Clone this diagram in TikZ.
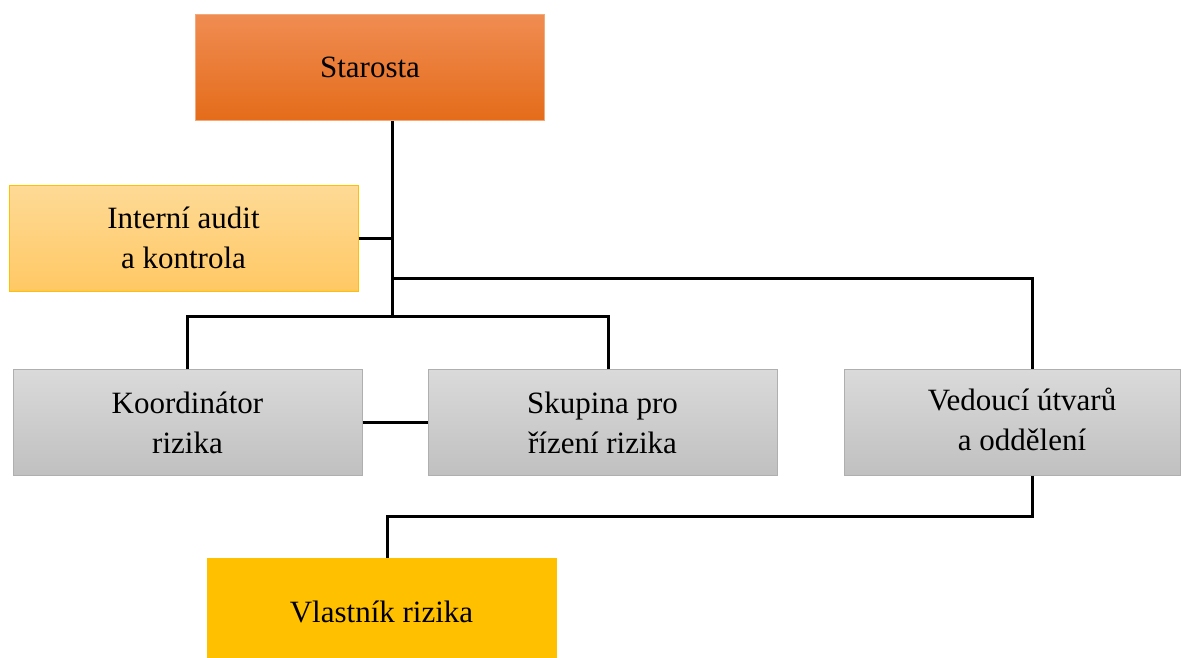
\documentclass[tikz,border=0pt]{standalone}
\usepackage{fontspec}
\setmainfont{Liberation Serif}
\definecolor{orTop}{RGB}{240,140,82}
\definecolor{orBot}{RGB}{228,108,26}
\definecolor{orLine}{RGB}{244,170,120}
\definecolor{auTop}{RGB}{254,218,150}
\definecolor{auBot}{RGB}{255,200,100}
\definecolor{auLine}{RGB}{255,192,0}
\definecolor{grTop}{RGB}{218,218,218}
\definecolor{grBot}{RGB}{192,192,192}
\definecolor{grLine}{RGB}{175,175,175}
\definecolor{vlFill}{RGB}{255,192,0}
\tikzset{
  box/.style={rectangle, minimum width=349pt, minimum height=106pt, inner sep=0pt,
    align=center, font=\fontsize{31}{40}\selectfont, line width=1pt},
  chief/.style={box, draw=orLine, top color=orTop, bottom color=orBot},
  audit/.style={box, draw=auLine, top color=auTop, bottom color=auBot},
  grey/.style={box, draw=grLine, top color=grTop, bottom color=grBot},
  owner/.style={box, draw=vlFill, fill=vlFill},
  conn/.style={line width=3pt, black}
}
\begin{document}
\begin{tikzpicture}[x=1pt,y=-1pt]
\clip (0,0) rectangle (1182,657);
\fill[white] (0,0) rectangle (1182,657);
\node[chief] (star) at (370,67.5) {Starosta};
\node[audit] (aud) at (183.5,238) {Interní audit\\a kontrola};
\node[grey] (koord) at (187.5,422.5) {Koordinátor\\rizika};
\node[grey] (skup) at (602.5,422.5) {Skupina pro\\řízení rizika};
\node[grey, minimum width=336pt] (ved) at (1012,422.5)
  {\begin{tabular}{@{\hspace{20pt}}c@{}}Vedoucí útvarů\\a oddělení\end{tabular}};
\node[owner] (vl) at (381.5,611.5) {Vlastník rizika};
\coordinate (j1) at (392,238);
\coordinate (j2) at (392,278);
\coordinate (j3) at (392,316);
\coordinate (s0) at (392,121);
\coordinate (j5) at (1032,516);
\coordinate (j6) at (387,516);
\draw[conn] (s0) -- (j3);
\draw[conn] (aud.east) -- (j1);
\draw[conn] (j2) -| ([xshift=20pt]ved.north);
\draw[conn] (koord.north) |- (j3) -| ([xshift=5.5pt]skup.north);
\draw[conn] (koord.east) -- (skup.west);
\draw[conn] ([xshift=20pt]ved.south) -- (j5) -- (j6) -- ([xshift=5.5pt]vl.north);
\end{tikzpicture}
\end{document}
